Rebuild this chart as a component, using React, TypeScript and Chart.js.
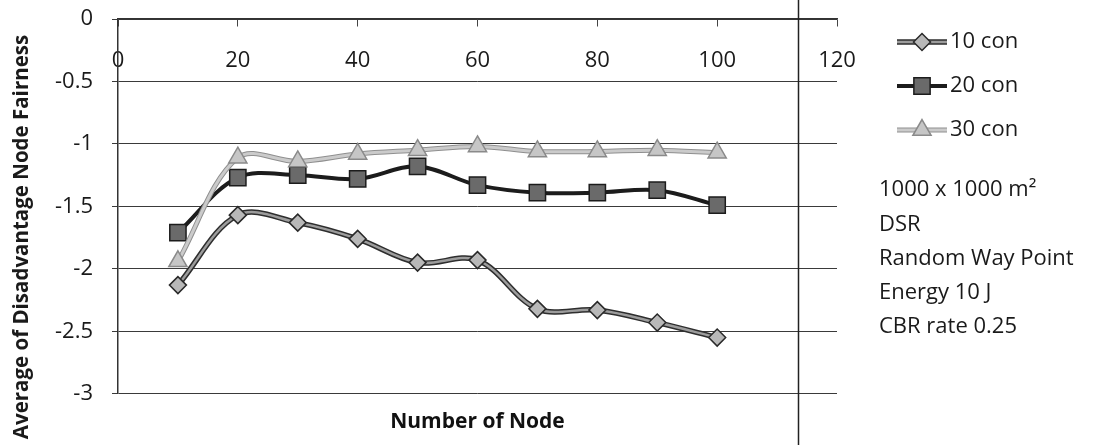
import React, { useEffect, useRef } from "react";
import { Chart, registerables } from "chart.js";
import { drawPoint } from "chart.js/helpers";

Chart.register(...registerables);

// ---- data ----
const nodes = [10, 20, 30, 40, 50, 60, 70, 80, 90, 100];
const con10 = [-2.13, -1.57, -1.63, -1.76, -1.95, -1.93, -2.32, -2.33, -2.43, -2.55];
const con20 = [-1.71, -1.27, -1.25, -1.28, -1.18, -1.33, -1.39, -1.39, -1.37, -1.49];
const con30 = [-1.94, -1.11, -1.14, -1.08, -1.05, -1.02, -1.06, -1.06, -1.05, -1.07];
const seriesNames = ["10 con", "20 con", "30 con"];
const seriesValues = [con10, con20, con30];
const xRange = [0, 120];
const xStep = 20;
const yRange = [-3, 0];
const yStep = 0.5;
const xTitle = "Number of Node";
const yTitle = "Average of Disadvantage Node Fairness";
const notes = ["1000 x 1000 m\u00B2", "DSR", "Random Way Point", "Energy 10 J", "CBR rate 0.25"];
const frameLineX = 113.5;

// ---- styles ----
const FONT = "'Open Sans', 'DejaVu Sans', sans-serif";
const TEXT = "#1a1a1a";
const styles = [
  { line: "#9c9c9c", outline: "#2e2e2e", lineW: 2.5, outlineW: 5.5, point: "rectRot", radius: 8.5, fill: "#b8b8b8", border: "#2a2a2a" },
  { line: "#1c1c1c", outline: null, lineW: 4, outlineW: 0, point: "rect", radius: 11.5, fill: "#6a6a6a", border: "#1c1c1c" },
  { line: "#cbcbcb", outline: "#8f8f8f", lineW: 3, outlineW: 5, point: "triangle", radius: 10.5, fill: "#c6c6c6", border: "#8a8a8a" },
];

const decorPlugin = {
  id: "decor",
  beforeDatasetDraw(chart: any, args: any) {
    const st = styles[args.index];
    if (!st || !st.outline) return;
    const line = args.meta.dataset;
    if (!line) return;
    const orig = line.options;
    line.options = Object.create(orig, {
      borderColor: { value: st.outline },
      borderWidth: { value: st.outlineW },
    });
    const ctx = chart.ctx;
    ctx.save();
    line.draw(ctx, chart.chartArea);
    ctx.restore();
    line.options = orig;
  },
  afterDraw(chart: any) {
    const ctx = chart.ctx;
    const area = chart.chartArea;
    const xs = chart.scales.x;

    // frame line
    const fx = Math.round(xs.getPixelForValue(frameLineX)) + 0.5;
    ctx.save();
    ctx.strokeStyle = "#222";
    ctx.lineWidth = 1.5;
    ctx.beginPath();
    ctx.moveTo(fx, 0);
    ctx.lineTo(fx, chart.height);
    ctx.stroke();
    ctx.restore();

    // y title
    ctx.save();
    ctx.translate(22, 237);
    ctx.rotate(-Math.PI / 2);
    ctx.font = `bold 20.5px ${FONT}`;
    ctx.fillStyle = TEXT;
    ctx.textAlign = "center";
    ctx.textBaseline = "middle";
    ctx.fillText(yTitle, 0, 0);
    ctx.restore();

    // legend
    const lx0 = area.right + 60;
    const lx1 = area.right + 110;
    const tx = area.right + 113;
    seriesNames.forEach((name, i) => {
      const st = styles[i];
      const y = area.top + 23 + i * 44;
      ctx.save();
      ctx.lineCap = "butt";
      if (st.outline) {
        ctx.strokeStyle = st.outline;
        ctx.lineWidth = st.outlineW;
        ctx.beginPath();
        ctx.moveTo(lx0, y);
        ctx.lineTo(lx1, y);
        ctx.stroke();
      }
      ctx.strokeStyle = st.line;
      ctx.lineWidth = st.lineW;
      ctx.beginPath();
      ctx.moveTo(lx0, y);
      ctx.lineTo(lx1, y);
      ctx.stroke();
      ctx.fillStyle = st.fill;
      ctx.strokeStyle = st.border;
      ctx.lineWidth = 1.5;
      drawPoint(ctx, { pointStyle: st.point, radius: st.radius, borderWidth: 1.5, rotation: 0 } as any, (lx0 + lx1) / 2, y);
      ctx.fillStyle = TEXT;
      ctx.font = `22px ${FONT}`;
      ctx.textAlign = "left";
      ctx.textBaseline = "middle";
      ctx.fillText(name, tx, y);
      ctx.restore();
    });

    // notes
    ctx.save();
    ctx.fillStyle = TEXT;
    ctx.font = `22px ${FONT}`;
    ctx.textAlign = "left";
    ctx.textBaseline = "middle";
    notes.forEach((t, i) => {
      ctx.fillText(t, area.right + 42, area.top + 171 + i * 34.3);
    });
    ctx.restore();
  },
};

export default function App() {
  const ref = useRef<HTMLCanvasElement | null>(null);
  useEffect(() => {
    if (!ref.current) return;
    const chart = new Chart(ref.current, {
      type: "line",
      data: {
        datasets: seriesValues.map((vals, i) => ({
          label: seriesNames[i],
          data: nodes.map((n, j) => ({ x: n, y: vals[j] })),
          borderColor: styles[i].line,
          borderWidth: styles[i].lineW,
          pointStyle: styles[i].point as any,
          pointRadius: styles[i].radius,
          pointHoverRadius: styles[i].radius,
          pointBackgroundColor: styles[i].fill,
          pointBorderColor: styles[i].border,
          pointBorderWidth: 1.5,
          tension: 0.35,
          fill: false,
          order: 2 - i,
        })),
      },
      options: {
        responsive: false,
        animation: false,
        layout: { padding: { top: 19, right: 275, bottom: 6, left: 0 } },
        scales: {
          x: {
            type: "linear",
            min: xRange[0],
            max: xRange[1],
            position: { y: 0 } as any,
            ticks: { stepSize: xStep, padding: 22, color: TEXT, font: { family: FONT, size: 22 } },
            grid: { drawOnChartArea: false, drawTicks: true, tickLength: 7, color: "#444", lineWidth: 1 },
            border: { display: true, color: "#333", width: 1.5 },
          },
          y: {
            type: "linear",
            min: yRange[0],
            max: yRange[1],
            ticks: {
              stepSize: yStep,
              padding: 19,
              color: TEXT,
              font: { family: FONT, size: 22 },
              callback: (v: any) => String(Number(v)),
            },
            grid: { color: "#3a3a3a", lineWidth: 1, tickLength: 6, drawTicks: true },
            border: { display: true, color: "#333", width: 1.5 },
            afterFit: (s: any) => {
              s.width = 118;
              s.paddingTop = 0;
              s.paddingBottom = 0;
            },
          },
        },
        plugins: {
          legend: { display: false },
          tooltip: { enabled: false },
          title: {
            display: true,
            text: xTitle,
            position: "bottom",
            fullSize: false,
            color: "#111",
            font: { family: FONT, size: 21, weight: "bold" },
            padding: { top: 16, bottom: 4 },
          },
        },
      },
      plugins: [decorPlugin],
    });
    return () => chart.destroy();
  }, []);
  return (
    <div style={{ position: "absolute", left: 0, top: 0, width: 1112, height: 445, background: "#fff" }}>
      <canvas ref={ref} width={1112} height={445} style={{ display: "block" }} />
    </div>
  );
}
